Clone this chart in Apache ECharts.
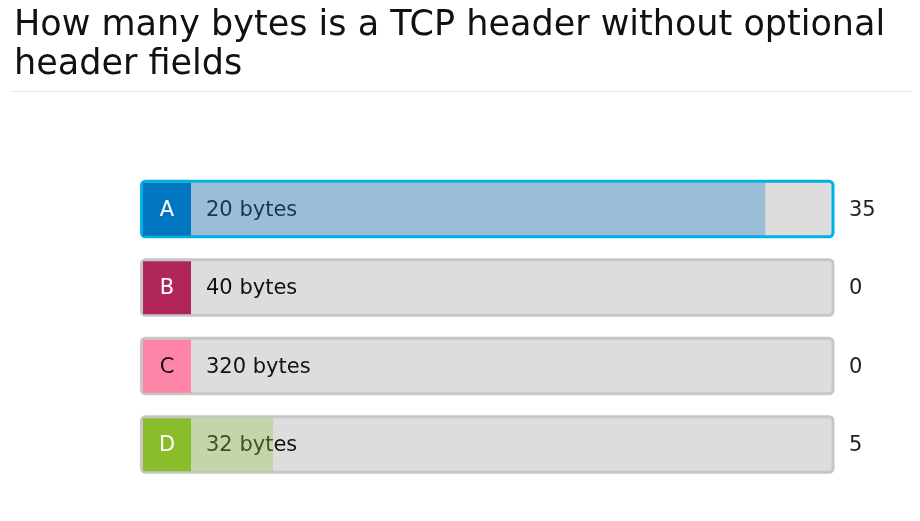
<!DOCTYPE html>
<html>
<head>
<meta charset="utf-8">
<script src="https://cdn.jsdelivr.net/npm/echarts@6/dist/echarts.min.js"></script>
<style>html,body{margin:0;padding:0;background:#fff;}#c{width:920px;height:521px;}</style>
</head>
<body>
<div id="c"></div>
<script>
const titleText = 'How many bytes is a TCP header without optional\nheader fields';
const letters = ['A', 'B', 'C', 'D'];
const answers = ['20 bytes', '40 bytes', '320 bytes', '32 bytes'];
const counts = [35, 0, 0, 5];
const axisMax = 39;

const letterColors = ['#0077c0', '#b0265a', '#ff85a8', '#8abd2c'];
const letterTextColors = ['#ffffff', '#ffffff', '#111111', '#ffffff'];
const fillColors = ['rgba(27,132,201,0.35)', 'rgba(27,132,201,0.35)', 'rgba(27,132,201,0.35)', 'rgba(150,198,72,0.35)'];
const borderColors = ['#00b2e3', '#c6c6c6', '#c6c6c6', '#c6c6c6'];
const FONT = '"DejaVu Sans", "Open Sans", sans-serif';

const chart = echarts.init(document.getElementById('c'), null, {renderer: 'canvas'});

function renderItem(params, api) {
  const idx = api.value(0);
  const val = api.value(1);
  const p0 = api.coord([0, idx]);
  const pMax = api.coord([axisMax, idx]);
  const pv = api.coord([val, idx]);
  const cy = p0[1];
  const x0 = p0[0];
  const xm = pMax[0];
  const ih = 53;
  const children = [
    {type: 'rect', shape: {x: x0 - 49.5, y: cy - 28, width: xm - x0 + 51.5, height: 55.5, r: 4},
     style: {fill: '#dddddd', stroke: borderColors[idx], lineWidth: 3}},
    {type: 'rect', shape: {x: x0 - 48, y: cy - ih / 2, width: 48, height: ih},
     style: {fill: letterColors[idx]}},
    {type: 'text', style: {x: x0 - 24, y: cy + 1, text: letters[idx], fill: letterTextColors[idx],
      font: '21px ' + FONT, align: 'center', verticalAlign: 'middle'}},
    {type: 'text', style: {x: x0 + 15, y: cy + 1, text: answers[idx], fill: '#111111',
      font: '21px ' + FONT, align: 'left', verticalAlign: 'middle'}},
    {type: 'rect', shape: {x: x0, y: cy - ih / 2, width: Math.max(0, pv[0] - x0), height: ih},
     style: {fill: fillColors[idx]}},
    {type: 'text', style: {x: xm + 18, y: cy + 1, text: String(counts[idx]), fill: '#222222',
      font: '21px ' + FONT, align: 'left', verticalAlign: 'middle'}}
  ];
  return {type: 'group', children: children};
}

chart.setOption({
  animation: false,
  backgroundColor: '#ffffff',
  title: {
    text: titleText,
    left: 9, top: 1,
    textStyle: {fontFamily: FONT, fontSize: 35, fontWeight: 'normal', color: '#111111', lineHeight: 39}
  },
  graphic: [
    {type: 'line', shape: {x1: 12, y1: 91.5, x2: 912, y2: 91.5}, style: {stroke: '#e8e8e8', lineWidth: 1}}
  ],
  grid: {left: 191, right: 89, top: 170, height: 314},
  xAxis: {type: 'value', min: 0, max: axisMax, show: false},
  yAxis: {type: 'category', data: letters, inverse: true, show: false},
  series: [{
    type: 'custom',
    renderItem: renderItem,
    encode: {x: 1, y: 0},
    data: counts.map((v, i) => [i, v])
  }]
});
</script>
</body>
</html>
